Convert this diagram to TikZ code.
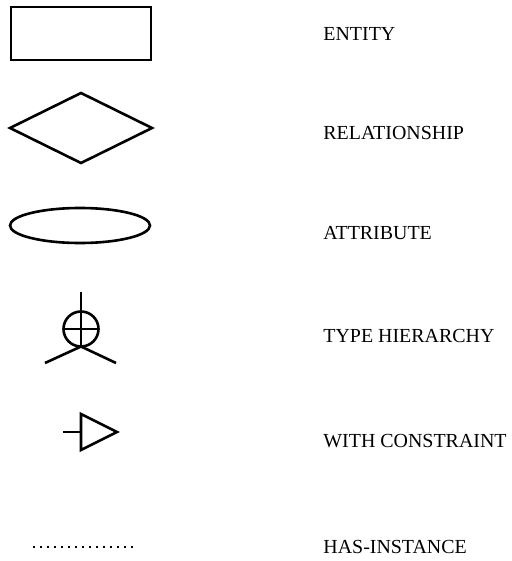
\documentclass[tikz,border=0pt]{standalone}
\usepackage{fontspec}
\setmainfont{Liberation Serif}
\usepackage{tikz}
\usetikzlibrary{shapes,positioning,calc}

\begin{document}
\begin{tikzpicture}[x=0.5bp, y=-0.5bp,
    sym/.style={draw, line width=1.3bp, inner sep=0pt, outer sep=0pt},
    label/.style={anchor=west, font=\fontsize{10}{12}\selectfont, inner sep=0pt},
    line/.style={line width=1.3bp}
]
\useasboundingbox (0,0) rectangle (512,561);

% Entity
\node[sym, rectangle, minimum width=70bp, minimum height=26.5bp] (entity) at (81,33.5) {};
\node[label] (entitytxt) at (323,34) {ENTITY};

% Relationship
\node[sym, diamond, minimum width=71bp, minimum height=35bp] (relation) at (81,128) {};
\node[label] (relationtxt) at (323,133) {RELATIONSHIP};

% Attribute
\node[sym, ellipse, minimum width=70bp, minimum height=17.5bp] (attrib) at (80,225.5) {};
\node[label] (attribtxt) at (323,233) {ATTRIBUTE};

% Type hierarchy
\node[sym, circle, minimum size=17.5bp] (hier) at (81,329) {};
\coordinate (hiertop) at (81,292);
\coordinate (hierleft) at (45,363);
\coordinate (hierright) at (116,363);
\draw[line] (hiertop) -- (hier.south);
\draw[line] (hier.west) -- (hier.east);
\draw[line] (hierleft) -- (hier.south) -- (hierright);
\node[label] (hiertxt) at (323,336) {TYPE HIERARCHY};

% With constraint
\node[sym, isosceles triangle, isosceles triangle stretches, minimum width=18bp, minimum height=18bp, anchor=lower side] (constr) at (81,432) {};
\coordinate (constrstub) at (63,432);
\draw[line] (constrstub) -- (constr.lower side);
\node[label] (constrtxt) at (323,441) {WITH CONSTRAINT};

% Has-instance
\coordinate (instleft) at (33,547);
\coordinate (instright) at (135,547);
\draw[line width=1.3bp, dash pattern=on 0.9bp off 2.6bp] (instleft) -- (instright);
\node[label] (insttxt) at (323,547) {HAS-INSTANCE};

\end{tikzpicture}
\end{document}
